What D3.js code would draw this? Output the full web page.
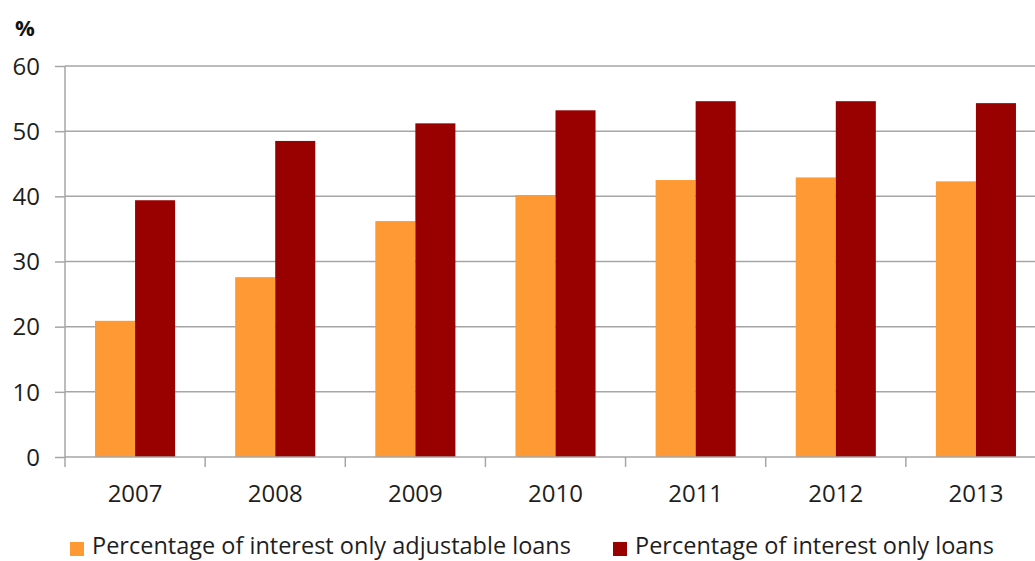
<!DOCTYPE html>
<html>
<head>
<meta charset="utf-8">
<script src="https://cdn.jsdelivr.net/npm/d3@7/dist/d3.min.js"></script>
<style>
  html, body { margin: 0; padding: 0; background: #fff; }
  svg { display: block; font-family: "Open Sans", "Noto Sans", sans-serif; }
</style>
</head>
<body>
<svg id="chart" width="1035" height="561"></svg>
<script>
// Loan share data, 2007–2013
const years = ["2007", "2008", "2009", "2010", "2011", "2012", "2013"];
const adjustableIO = [20.9, 27.6, 36.2, 40.2, 42.5, 42.9, 42.3];
const interestOnly = [39.4, 48.5, 51.2, 53.2, 54.6, 54.6, 54.3];
const seriesNames = ["Percentage of interest only adjustable loans", "Percentage of interest only loans"];
const seriesColors = ["#FF9933", "#990000"];
const yTicks = [0, 10, 20, 30, 40, 50, 60];

const svg = d3.select("#chart");
const plotLeft = 65, plotRight = 1046, plotTop = 66, plotBottom = 457;

const x = d3.scaleBand().domain(years).range([plotLeft, plotRight]).paddingInner(0).paddingOuter(0);
const inner = d3.scaleBand().domain([0, 1]).range([0, x.bandwidth() * 80 / 140]);
const y = d3.scaleLinear().domain([0, 60]).range([plotBottom, plotTop]);

const grid = "#a6a6a6";
const textColor = "#1e1e1e";

// horizontal gridlines
svg.append("g").selectAll("line").data(yTicks.filter(d => d > 0)).join("line")
  .attr("x1", plotLeft).attr("x2", 1035)
  .attr("y1", d => y(d)).attr("y2", d => y(d))
  .attr("stroke", grid).attr("stroke-width", 1.5);

// bars
const offset = (x.bandwidth() - inner.range()[1]) / 2;
[adjustableIO, interestOnly].forEach((vals, s) => {
  svg.append("g").selectAll("rect").data(vals).join("rect")
    .attr("x", (d, i) => x(years[i]) + offset + inner(s))
    .attr("width", inner.bandwidth())
    .attr("y", d => y(d))
    .attr("height", d => y(0) - y(d))
    .attr("fill", seriesColors[s]);
});

// y axis
const yAxis = svg.append("g").attr("transform", `translate(${plotLeft},0)`)
  .call(d3.axisLeft(y).tickValues(yTicks).tickSize(10).tickPadding(15));
yAxis.select(".domain").attr("stroke", grid).attr("stroke-width", 1.5).attr("d", `M0,${plotTop}V${plotBottom}`);
yAxis.selectAll(".tick line").attr("stroke", grid).attr("stroke-width", 1.5);
yAxis.selectAll(".tick text").attr("fill", textColor).attr("dy", "0.34em")
  .style("font-size", "24px").style("font-family", "'Open Sans', sans-serif");

// x axis with tick marks at category boundaries
const xAxis = svg.append("g").attr("transform", `translate(0,${plotBottom})`);
xAxis.append("line").attr("x1", plotLeft).attr("x2", 1035).attr("y1", 0).attr("y2", 0)
  .attr("stroke", grid).attr("stroke-width", 1.5);
xAxis.selectAll("line.tk").data(years).join("line").attr("class", "tk")
  .attr("x1", d => x(d)).attr("x2", d => x(d)).attr("y1", 0).attr("y2", 10)
  .attr("stroke", grid).attr("stroke-width", 1.5);
xAxis.selectAll("text").data(years).join("text")
  .attr("x", d => x(d) + x.bandwidth() / 2).attr("y", 45)
  .attr("text-anchor", "middle").attr("fill", textColor).style("font-size", "24px")
  .text(d => d);

// unit label
svg.append("text").attr("x", 15).attr("y", 36).attr("font-weight", "bold")
  .style("font-size", "22px").attr("fill", "#111").text("%");

// legend
const legendPos = [70, 613];
seriesNames.forEach((name, i) => {
  const g = svg.append("g").attr("transform", `translate(${legendPos[i]},0)`);
  g.append("rect").attr("x", 0).attr("y", 542).attr("width", 14).attr("height", 14).attr("fill", seriesColors[i]);
  g.append("text").attr("x", 22).attr("y", 554).attr("fill", textColor).style("font-size", "23.5px").text(name);
});
</script>
</body>
</html>
